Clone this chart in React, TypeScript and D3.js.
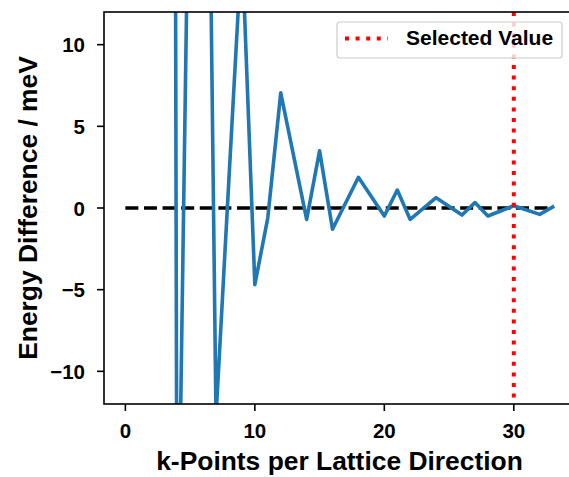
import React from "react";
import * as d3 from "d3";

// k-point convergence: energy difference vs. k-points per lattice direction
const kPoints = [3, 4, 5, 6, 7, 8, 9, 10, 11, 12, 14, 15, 16, 18, 20, 21, 22, 24, 26, 27, 28, 30, 32, 33];
const energyDiff = [300, -27, 27, 54, -12.8, 1.8, 16.2, -4.7, -0.6, 7.05, -0.7, 3.5, -1.3, 1.88, -0.49, 1.1, -0.7, 0.63, -0.43, 0.33, -0.49, 0.14, -0.39, 0.06];
const xTicks = [0, 10, 20, 30];
const yTicks = [-10, -5, 0, 5, 10];
const referenceSpan = [0, 33];
const selectedK = 30;
const legendLabel = "Selected Value";
const xLabel = "k-Points per Lattice Direction";
const yLabel = "Energy Difference / meV";

const W = 569;
const H = 477;
const plot = { left: 104, right: 574, top: 12, bottom: 404 };
const font = "'Liberation Sans', Arial, sans-serif";
const tickLen = 7;

export default function App() {
  const x = d3.scaleLinear().domain([-1.65, 34.65]).range([plot.left, plot.right]);
  const y = d3.scaleLinear().domain([-12, 12]).range([plot.bottom, plot.top]);

  const pts: [number, number][] = kPoints.map((k, i) => [k, energyDiff[i]]);
  const line = d3
    .line<[number, number]>()
    .x((d) => x(d[0]))
    .y((d) => y(d[1]));

  const legend = { x: 337, y: 22, w: 225, h: 36 };

  return (
    <svg
      width={W}
      height={H}
      style={{ position: "absolute", left: 0, top: 0, background: "#fff" }}
      fontFamily={font}
      fontWeight="bold"
    >
      <defs>
        <clipPath id="plot-area">
          <rect x={plot.left} y={plot.top} width={plot.right - plot.left} height={plot.bottom - plot.top} />
        </clipPath>
      </defs>

      <g clipPath="url(#plot-area)">
        <line
          x1={x(referenceSpan[0])}
          x2={x(referenceSpan[1])}
          y1={y(0)}
          y2={y(0)}
          stroke="#000"
          strokeWidth={3.5}
          strokeDasharray="13 5.6"
        />
        <path d={line(pts) ?? ""} fill="none" stroke="#1f77b4" strokeWidth={3.6} strokeLinejoin="round" strokeLinecap="square" />
        <line
          x1={x(selectedK)}
          x2={x(selectedK)}
          y1={plot.top}
          y2={plot.bottom}
          stroke="#ff0000"
          strokeWidth={4}
          strokeDasharray="4 6.6"
        />
      </g>

      {/* spines */}
      <rect
        x={plot.left}
        y={plot.top}
        width={plot.right - plot.left}
        height={plot.bottom - plot.top}
        fill="none"
        stroke="#000"
        strokeWidth={1.6}
      />

      {/* x axis */}
      {xTicks.map((t) => (
        <g key={`x${t}`}>
          <line x1={x(t)} x2={x(t)} y1={plot.bottom} y2={plot.bottom + tickLen} stroke="#000" strokeWidth={1.6} />
          <text x={x(t)} y={438} textAnchor="middle" fontSize={20.5} fill="#000">
            {t}
          </text>
        </g>
      ))}
      <text x={(plot.left + plot.right) / 2 + 0.5} y={470} textAnchor="middle" fontSize={26.4} fill="#000">
        {xLabel}
      </text>

      {/* y axis */}
      {yTicks.map((t) => (
        <g key={`y${t}`}>
          <line x1={plot.left - tickLen} x2={plot.left} y1={y(t)} y2={y(t)} stroke="#000" strokeWidth={1.6} />
          <text x={85} y={y(t) + 7.5} textAnchor="end" fontSize={20.5} fill="#000">
            {t < 0 ? `\u2212${Math.abs(t)}` : t}
          </text>
        </g>
      ))}
      <text
        transform={`translate(37, ${(plot.top + plot.bottom) / 2}) rotate(-90)`}
        textAnchor="middle"
        fontSize={26.4}
        fill="#000"
      >
        {yLabel}
      </text>

      {/* legend */}
      <rect
        x={legend.x}
        y={legend.y}
        width={legend.w}
        height={legend.h}
        rx={3}
        fill="#fff"
        fillOpacity={0.8}
        stroke="#cccccc"
        strokeWidth={1.2}
      />
      <line
        x1={legend.x + 8}
        x2={legend.x + 51}
        y1={legend.y + 16.5}
        y2={legend.y + 16.5}
        stroke="#ff0000"
        strokeWidth={4}
        strokeDasharray="4 6.6"
      />
      <text x={legend.x + 69} y={legend.y + 23} fontSize={21} fill="#000">
        {legendLabel}
      </text>
    </svg>
  );
}
